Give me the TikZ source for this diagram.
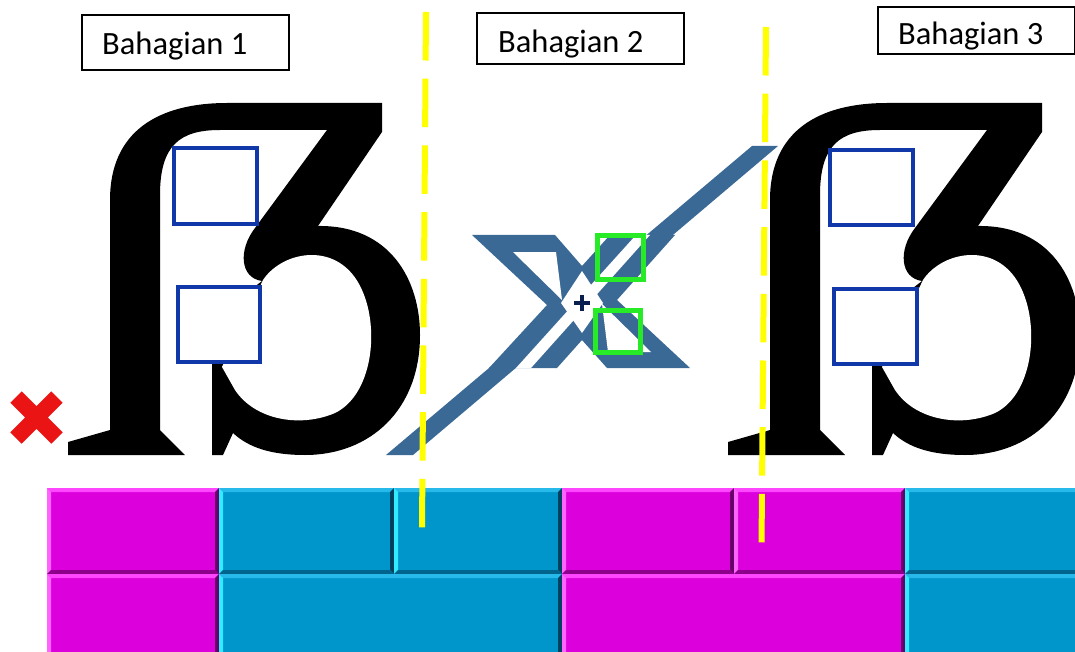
\documentclass[tikz,border=0pt]{standalone}
\usepackage{fontspec}
\setmainfont{Carlito}
\definecolor{magbase}{RGB}{220,0,220}
\definecolor{magT}{RGB}{255,70,255}
\definecolor{magL}{RGB}{255,100,255}
\definecolor{magR}{RGB}{105,0,105}
\definecolor{magB}{RGB}{140,0,140}
\definecolor{cyabase}{RGB}{0,150,204}
\definecolor{cyaT}{RGB}{40,185,235}
\definecolor{cyaL}{RGB}{50,235,255}
\definecolor{cyaR}{RGB}{0,65,95}
\definecolor{cyaB}{RGB}{0,100,140}
\definecolor{xblue}{RGB}{59,105,150}
\definecolor{sqblue}{RGB}{16,56,168}
\definecolor{sqgreen}{RGB}{40,235,40}
\definecolor{yel}{RGB}{255,255,0}
\definecolor{crossred}{RGB}{235,20,20}
\definecolor{navyplus}{RGB}{10,30,80}
\newcommand{\mybrick}[5]{%
  \fill[#5base] (#1,#2) rectangle (#3,#4);
  \fill[#5T] (#1,#2) -- (#3,#2) -- (#3-4,#2+4) -- (#1+4,#2+4) -- cycle;
  \fill[#5L] (#1,#2) -- (#1+4,#2+4) -- (#1+4,#4-4) -- (#1,#4) -- cycle;
  \fill[#5R] (#3,#2) -- (#3,#4) -- (#3-4,#4-4) -- (#3-4,#2+4) -- cycle;
  \fill[#5B] (#1,#4) -- (#3,#4) -- (#3-4,#4-4) -- (#1+4,#4-4) -- cycle;
}
\newcommand{\myglyph}[1]{%
  \begin{scope}[xshift=#1]
  \fill[black] (68,455) -- (68,442) -- (110,430) -- (110,200)
     .. controls (110,130) and (160,103) .. (227,103) -- (382,103) -- (382,132)
     -- (318,226) -- (300,262) -- (262,281)
     .. controls (240,278) and (238,250) .. (255,228) -- (327,130) -- (220,130)
     .. controls (180,130) and (160,145) .. (160,195) -- (160,430) -- (185,455) -- cycle;
  \fill[black] (300,235) -- (318,226) .. controls (390,225) and (420,280) .. (420,335)
     .. controls (420,410) and (370,455) .. (305,455)
     .. controls (270,455) and (248,447) .. (233,433) -- (223,455) -- (212,455)
     -- (212,320) -- (262,281) -- cycle;
  \fill[white] (263,280) .. controls (283,250) and (340,240) .. (362,290)
     .. controls (380,330) and (372,395) .. (335,413)
     .. controls (300,428) and (255,420) .. (235,390) -- (222,367) -- cycle;
  \end{scope}
}
\tikzset{
  bsq/.style={draw=sqblue, line width=4.5, fill=white},
  gsq/.style={draw=sqgreen, line width=5},
  ydash/.style={draw=yel, line width=6, dash pattern=on 48.5pt off 18.2pt},
  labelbox/.style={draw=black, line width=1.6, anchor=north west, inner sep=0pt},
  labeltext/.style={anchor=base west, inner sep=0pt, font=\fontsize{32.5}{38}\selectfont}
}
\begin{document}
\begin{tikzpicture}[x=1pt,y=-1pt]
\useasboundingbox (0,0) rectangle (1075,652);
\clip (0,0) rectangle (1075,652);
% bricks
\mybrick{47}{488}{219}{574}{mag}
\mybrick{219}{488}{394}{574}{cya}
\mybrick{394}{488}{562}{574}{cya}
\mybrick{562}{488}{734}{574}{mag}
\mybrick{734}{488}{905}{574}{mag}
\mybrick{905}{488}{1082}{574}{cya}
\mybrick{47}{574}{219}{662}{mag}
\mybrick{219}{574}{562}{662}{cya}
\mybrick{562}{574}{905}{662}{mag}
\mybrick{905}{574}{1082}{662}{cya}
% glyphs
\myglyph{0}
\myglyph{660}
% X with slash
\fill[xblue] (386,455) -- (413,455) -- (778,146) -- (752,146) -- cycle;
\fill[xblue] (472,235) -- (555,235) -- (582,266) -- (610,235) -- (675,235) -- (617,300)
   -- (690,368) -- (607,368) -- (582,340) -- (557,368) -- (489,368) -- (547,305) -- cycle;
% white inner parts of the X
\fill[white] (513,252) -- (556,252) -- (562,300) -- cycle;
\fill[white] (651,352) -- (608,352) -- (602,304) -- cycle;
\fill[white] (561,303) -- (582,271) -- (603,303) -- (582,333) -- cycle;
\begin{scope}
  \clip (400,235) rectangle (700,368);
  \fill[white] (516,368) -- (531,368) -- (650,235) -- (636,235) -- cycle;
\end{scope}
\draw[navyplus, line width=4.5] (574,303) -- (590,303) (582,295) -- (582,311);
% blue squares
\draw[bsq] (174,148) rectangle (257,224);
\draw[bsq] (178,287) rectangle (260,362);
\draw[bsq] (830,150) rectangle (913,225);
\draw[bsq] (834,289) rectangle (917,364);
% green squares
\draw[gsq] (597.5,235.5) rectangle (643.5,279.5);
\draw[gsq] (595.5,310.5) rectangle (640.5,352.5);
% red cross
\draw[crossred, line width=16] (16,397) -- (57,438) (16,438) -- (57,397);
% yellow dashed lines
\draw[ydash] (426,12) -- (422,528);
\draw[ydash] (766,27) -- (761.5,546);
% labels
\node[labelbox, minimum width=207pt, minimum height=55pt] (box1) at (81,14) {};
\node[labeltext] (t1) at (102,55) {Bahagian 1};
\node[labelbox, minimum width=207pt, minimum height=51pt] (box2) at (476,12) {};
\node[labeltext] (t2) at (498,53) {Bahagian 2};
\node[labelbox, minimum width=197pt, minimum height=47pt] (box3) at (877,6) {};
\node[labeltext] (t3) at (898,45) {Bahagian 3};
\end{tikzpicture}
\end{document}
